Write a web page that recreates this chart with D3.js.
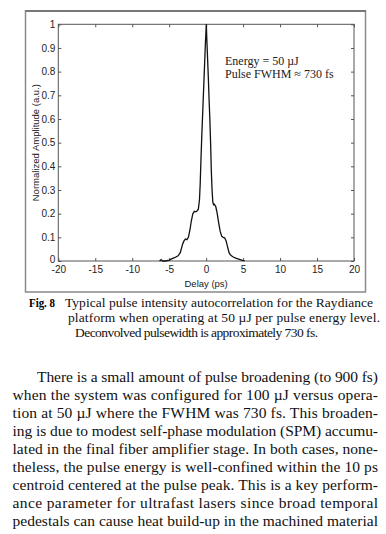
<!DOCTYPE html>
<html lang="en">
<head>
<meta charset="utf-8">
<title>Pulse autocorrelation</title>
<script src="https://cdn.jsdelivr.net/npm/d3@7"></script>
<style>
  body { margin: 0; background: #fff; }
  svg { display: block; }
</style>
</head>
<body>
<script>
// autocorrelation trace
var delay = [-6.3, -6.1, -5.9, -5.5, -5.0, -4.6, -4.2, -3.8, -3.5, -3.2, -3.0, -2.8, -2.6, -2.4,
             -2.2, -2.0, -1.8, -1.6, -1.4, -1.2, -1.05, -0.9, -0.8, -0.7, -0.6, -0.5, -0.4, -0.3,
             -0.2, -0.1, 0.02, 0.1, 0.2, 0.3, 0.4, 0.5, 0.6, 0.7, 0.8, 0.9, 1.0, 1.1, 1.3, 1.5,
             1.7, 1.9, 2.1, 2.3, 2.5, 2.7, 2.9, 3.1, 3.3, 3.6, 4.0, 4.4, 4.8, 5.2];
var amplitude = [0.0, 0.006, 0.0, 0.0, 0.004, 0.01, 0.015, 0.022, 0.035, 0.07, 0.085, 0.093, 0.09, 0.1,
                 0.13, 0.17, 0.2, 0.21, 0.208, 0.212, 0.22, 0.26, 0.33, 0.43, 0.52, 0.6, 0.68, 0.76,
                 0.84, 0.92, 1.0, 0.93, 0.85, 0.77, 0.68, 0.6, 0.5, 0.38, 0.3, 0.25, 0.238, 0.24, 0.23, 0.2,
                 0.16, 0.125, 0.105, 0.1, 0.098, 0.085, 0.06, 0.035, 0.025, 0.018, 0.012, 0.008, 0.004, 0.0];

var xTicks = [-20, -15, -10, -5, 0, 5, 10, 15, 20];
var yTicks = [0, 0.1, 0.2, 0.3, 0.4, 0.5, 0.6, 0.7, 0.8, 0.9, 1];
var annotation = ["Energy = 50 \u00b5J", "Pulse FWHM \u2248 730 fs"];

var caption = ["Typical pulse intensity autocorrelation for the Raydiance",
               "platform when operating at 50 \u00b5J per pulse energy level.",
               "Deconvolved pulsewidth is approximately 730 fs."];

var bodyLines = [
  "There is a small amount of pulse broadening (to 900 fs)",
  "when the system was configured for 100 \u00b5J versus opera-",
  "tion at 50 \u00b5J where the FWHM was 730 fs.  This broaden-",
  "ing is due to modest self-phase modulation (SPM) accumu-",
  "lated in the final fiber amplifier stage.  In both cases, none-",
  "theless, the pulse energy is well-confined within the 10 ps",
  "centroid centered at the pulse peak.  This is a key perform-",
  "ance parameter for ultrafast lasers since broad temporal",
  "pedestals can cause heat build-up in the machined material"
];

var W = 386, H = 534;
var svg = d3.select("body").append("svg")
    .attr("width", W)
    .attr("height", H);

svg.append("rect").attr("width", W).attr("height", H).attr("fill", "#fff");

// figure frame (top edge a bit heavier in the scan)
svg.append("rect")
    .attr("x", 25.5).attr("y", 11)
    .attr("width", 340).attr("height", 281)
    .attr("fill", "none")
    .attr("stroke", "#8a8a8a")
    .attr("stroke-width", 1.5);
svg.append("line")
    .attr("x1", 25).attr("x2", 366).attr("y1", 11).attr("y2", 11)
    .attr("stroke", "#777").attr("stroke-width", 2);

// plot box edges (note: "top" is taken by window.top)
var pLeft = 58.3, pRight = 354, pTop = 24.3, pBottom = 261;

var x = d3.scaleLinear().domain([-20, 20]).range([pLeft, pRight]);
var y = d3.scaleLinear().domain([0, 1]).range([pBottom, pTop]);

var sans = "'Liberation Sans', Arial, sans-serif";
var fmtX = function(d) { return String(d); };           // plain hyphen minus like matlab
var fmtY = function(d) { return String(+d.toFixed(1)); };

// ticks inward on all four sides, matlab style
var gx = svg.append("g").attr("transform", "translate(0," + pBottom + ")")
    .call(d3.axisBottom(x).tickValues(xTicks).tickSizeInner(-3).tickSizeOuter(0).tickPadding(5)
          .tickFormat(fmtX));
var gxTop = svg.append("g").attr("transform", "translate(0," + pTop + ")")
    .call(d3.axisTop(x).tickValues(xTicks).tickSizeInner(-3).tickSizeOuter(0).tickFormat(""));
var gy = svg.append("g").attr("transform", "translate(" + pLeft + ",0)")
    .call(d3.axisLeft(y).tickValues(yTicks).tickSizeInner(-3).tickSizeOuter(0).tickPadding(3)
          .tickFormat(fmtY));
var gyRight = svg.append("g").attr("transform", "translate(" + pRight + ",0)")
    .call(d3.axisRight(y).tickValues(yTicks).tickSizeInner(-3).tickSizeOuter(0).tickFormat(""));

[gx, gxTop, gy, gyRight].forEach(function(g) {
    g.select(".domain").remove();
    g.selectAll(".tick line").attr("stroke", "#555");
    g.selectAll("text")
        .attr("font-family", sans)
        .attr("font-size", "10px")
        .attr("fill", "#222");
});

// the "0" label sits a touch above the axis, as in the original
gy.selectAll(".tick text").filter(function(d) { return d === 0; }).attr("dy", "0.1em");

// plot box
svg.append("rect")
    .attr("x", pLeft).attr("y", pTop)
    .attr("width", pRight - pLeft).attr("height", pBottom - pTop)
    .attr("fill", "none")
    .attr("stroke", "#555")
    .attr("stroke-width", 1);

var line = d3.line()
    .x(function(d, i) { return x(delay[i]); })
    .y(function(d) { return y(d); });

svg.append("path")
    .datum(amplitude)
    .attr("d", line)
    .attr("fill", "none")
    .attr("stroke", "#111")
    .attr("stroke-width", 1.3);

svg.append("text")
    .attr("x", (pLeft + pRight) / 2)
    .attr("y", 287)
    .attr("text-anchor", "middle")
    .attr("font-family", sans)
    .attr("font-size", "9.5px")
    .attr("fill", "#222")
    .text("Delay (ps)");

svg.append("text")
    .attr("transform", "translate(39," + ((pTop + pBottom) / 2) + ") rotate(-90)")
    .attr("text-anchor", "middle")
    .attr("font-family", sans)
    .attr("font-size", "9.5px")
    .attr("fill", "#222")
    .text("Normalized Amplitude (a.u.)");

var serif = "'Liberation Serif', 'Times New Roman', serif";

svg.selectAll("text.note")
    .data(annotation)
    .enter().append("text")
    .attr("class", "note")
    .attr("x", 225)
    .attr("y", function(d, i) { return 65 + i * 12.5; })
    .attr("font-family", serif)
    .attr("font-size", "12px")
    .attr("fill", "#222")
    .text(function(d) { return d; });

// caption
svg.append("text")
    .attr("x", 29).attr("y", 307)
    .attr("textLength", 26)
    .attr("lengthAdjust", "spacingAndGlyphs")
    .attr("font-family", serif)
    .attr("font-size", "13.5px")
    .attr("font-weight", "bold")
    .text("Fig. 8");

var capX = [65, 68, 75];
var capW = [308, 312, 243];
svg.selectAll("text.cap")
    .data(caption)
    .enter().append("text")
    .attr("class", "cap")
    .attr("x", function(d, i) { return capX[i]; })
    .attr("y", function(d, i) { return 307 + i * 15; })
    .attr("textLength", function(d, i) { return capW[i]; })
    .attr("lengthAdjust", "spacing")
    .attr("font-family", serif)
    .attr("font-size", "13.5px")
    .attr("fill", "#111")
    .text(function(d) { return d; });

// body paragraph, justified
svg.selectAll("text.body")
    .data(bodyLines)
    .enter().append("text")
    .attr("class", "body")
    .attr("x", function(d, i) { return i === 0 ? 37 : 12.5; })
    .attr("y", function(d, i) { return 382 + i * 18; })
    .attr("textLength", function(d, i) { return i === 0 ? 341 : 365.5; })
    .attr("lengthAdjust", "spacing")
    .attr("font-family", serif)
    .attr("font-size", "15.5px")
    .attr("fill", "#111")
    .text(function(d) { return d; });
</script>
</body>
</html>
